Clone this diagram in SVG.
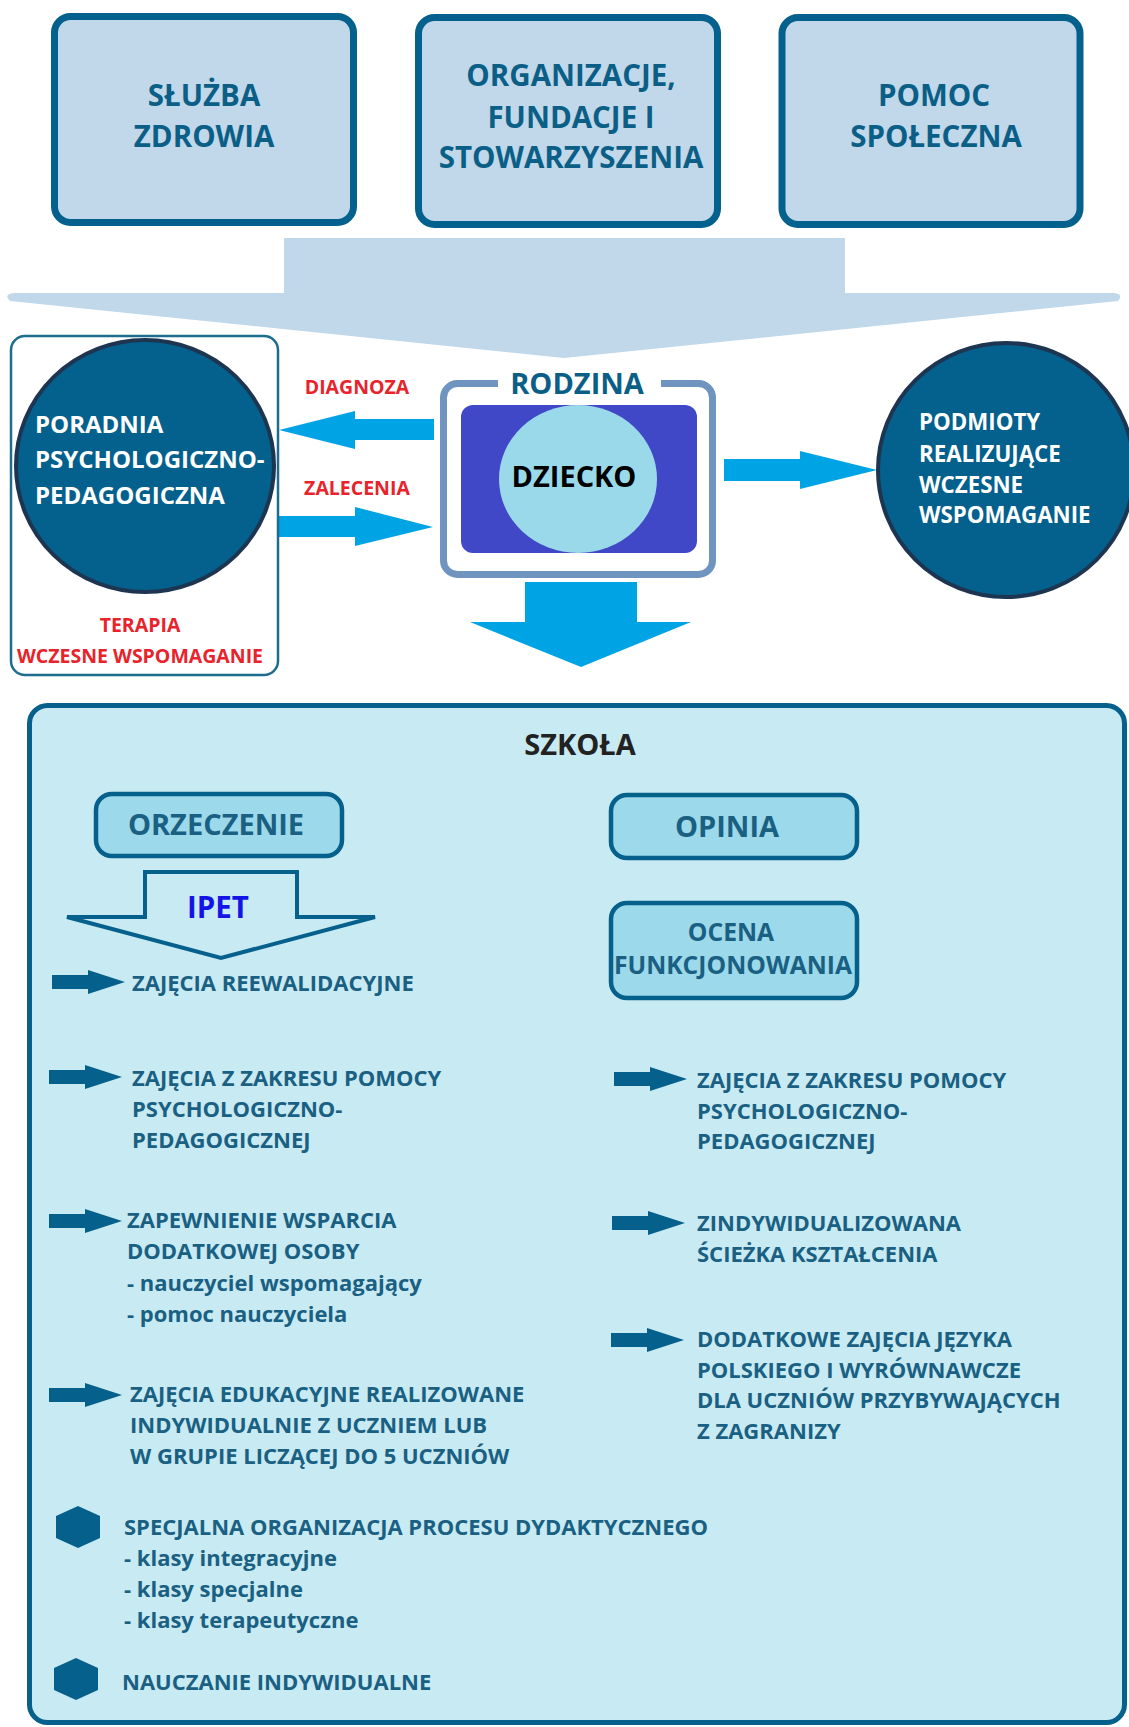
<svg xmlns="http://www.w3.org/2000/svg" xmlns:xlink="http://www.w3.org/1999/xlink" width="1129" height="1727" viewBox="0 0 1129 1727">
<style>
text{font-family:"Open Sans","Liberation Sans",sans-serif;font-weight:bold}
.top{fill:#C0D8EA;stroke:#04608C;stroke-width:7}
.toptx{font-size:29.5px;fill:#0B5F86;text-anchor:middle}
.red{font-size:19.5px;fill:#E8232B;text-anchor:middle}
.wh{font-size:24px;fill:#FFFFFF}
.wh2{font-size:22.3px;fill:#FFFFFF}
.cyan{fill:#00A3E4}
.sub{fill:#9CD9EA;stroke:#05608C;stroke-width:4.5}
.subtx{font-size:29px;fill:#1A6082;text-anchor:middle}
.it{font-size:22px;fill:#1A6082}
.dk{fill:#05608C}
</style>
<defs>
<path id="sarr" d="M0,5 H36 V0 L73,12 L36,24 V19 H0 Z"/>
<path id="hex" d="M22,0 L44,10 L44,32 L22,42 L0,32 L0,10 Z"/>
</defs>
<rect width="1129" height="1727" fill="#FFFFFF"/>

<g id="connectors">
<path d="M284,238 H845 V293 H1114 Q1124,294 1118,301 L564,358 L10,301 Q3,294 14,293 H284 Z" fill="#C0D8EA"/>
<polygon class="cyan" points="434,419 355,419 355,411 279,430 355,449 355,440 434,440"/>
<polygon class="cyan" points="279,516 355,516 355,507 433,527 355,546 355,537 279,537"/>
<polygon class="cyan" points="724,459 800,459 800,451 877,470 800,489 800,481 724,481"/>
<polygon class="cyan" points="525,582 637,582 637,622 691,622 581,667 470,622 525,622"/>
</g>

<g id="sluzba">
<rect class="top" x="54.5" y="16.5" width="299" height="206" rx="16"/>
<text class="toptx" x="204" y="106">SŁUŻBA</text>
<text class="toptx" x="204" y="147">ZDROWIA</text>
</g>
<g id="organizacje">
<rect class="top" x="418.5" y="17.5" width="299" height="207" rx="16"/>
<text class="toptx" x="571" y="86">ORGANIZACJE,</text>
<text class="toptx" x="571" y="128">FUNDACJE I</text>
<text class="toptx" x="571" y="168">STOWARZYSZENIA</text>
</g>
<g id="pomoc">
<rect class="top" x="782" y="17.5" width="298" height="207" rx="16"/>
<text class="toptx" x="934" y="106">POMOC</text>
<text class="toptx" x="936" y="147">SPOŁECZNA</text>
</g>

<g id="poradnia">
<rect x="11" y="336" width="267" height="339" rx="14" fill="none" stroke="#1E6D8E" stroke-width="2.5"/>
<ellipse cx="145" cy="466" rx="129" ry="126" fill="#04608C" stroke="#1D3550" stroke-width="4"/>
<text class="wh" x="35" y="433">PORADNIA</text>
<text class="wh" x="35" y="468">PSYCHOLOGICZNO-</text>
<text class="wh" x="35" y="504">PEDAGOGICZNA</text>
<text class="red" x="140" y="632">TERAPIA</text>
<text class="red" x="140" y="663">WCZESNE WSPOMAGANIE</text>
</g>

<g id="labels">
<text class="red" x="357" y="394">DIAGNOZA</text>
<text class="red" x="357" y="495">ZALECENIA</text>
</g>

<g id="rodzina">
<rect x="443.5" y="383.5" width="269" height="191" rx="14" fill="#FFFFFF" stroke="#7094C0" stroke-width="7"/>
<rect x="498" y="370" width="163" height="24" fill="#FFFFFF"/>
<text x="577" y="394" style="font-size:29px;fill:#0B5F86;text-anchor:middle">RODZINA</text>
<rect x="461" y="405" width="236" height="148" rx="12" fill="#4048C8"/>
</g>
<g id="dziecko">
<ellipse cx="578" cy="479" rx="79" ry="74" fill="#9AD9EA"/>
<text x="574" y="487" style="font-size:29px;fill:#000000;text-anchor:middle">DZIECKO</text>
</g>

<g id="podmioty">
<ellipse cx="1006" cy="470" rx="128" ry="127" fill="#04608C" stroke="#1D3550" stroke-width="4"/>
<text class="wh2" x="919" y="430">PODMIOTY</text>
<text class="wh2" x="919" y="462">REALIZUJĄCE</text>
<text class="wh2" x="919" y="493">WCZESNE</text>
<text class="wh2" x="919" y="523">WSPOMAGANIE</text>
</g>

<g id="szkola">
<rect x="29.5" y="705.5" width="1095" height="1017" rx="18" fill="#C8EAF3" stroke="#05608C" stroke-width="5"/>
<text x="580" y="755" style="font-size:29px;fill:#222222;text-anchor:middle">SZKOŁA</text>
</g>

<g id="orzeczenie">
<rect class="sub" x="96" y="794" width="246" height="62" rx="16"/>
<text class="subtx" x="216" y="835">ORZECZENIE</text>
</g>
<g id="ipet">
<path d="M145,872 H297 V917 H375 L221,958 L67,917 H145 Z" fill="#C8EAF3" stroke="#05608C" stroke-width="4" stroke-linejoin="miter"/>
<text x="218" y="918" style="font-size:29.5px;fill:#1414E6;text-anchor:middle">IPET</text>
</g>
<g id="opinia">
<rect class="sub" x="611" y="795" width="246" height="63" rx="16"/>
<text class="subtx" x="727" y="837">OPINIA</text>
</g>
<g id="ocena">
<rect class="sub" x="611" y="903" width="246" height="95" rx="16"/>
<text x="731" y="941" style="font-size:24.7px;fill:#1A6082;text-anchor:middle">OCENA</text>
<text x="733" y="974" style="font-size:24.7px;fill:#1A6082;text-anchor:middle">FUNKCJONOWANIA</text>
</g>

<g id="left-items">
<use href="#sarr" class="dk" x="52" y="970"/>
<text class="it" x="132" y="991">ZAJĘCIA REEWALIDACYJNE</text>
<use href="#sarr" class="dk" x="49" y="1065"/>
<text class="it" x="132" y="1086">ZAJĘCIA Z ZAKRESU POMOCY</text>
<text class="it" x="132" y="1117">PSYCHOLOGICZNO-</text>
<text class="it" x="132" y="1148">PEDAGOGICZNEJ</text>
<use href="#sarr" class="dk" x="49" y="1209"/>
<text class="it" x="127" y="1228">ZAPEWNIENIE WSPARCIA</text>
<text class="it" x="127" y="1259">DODATKOWEJ OSOBY</text>
<text class="it" x="127" y="1291">- nauczyciel wspomagający</text>
<text class="it" x="127" y="1322">- pomoc nauczyciela</text>
<use href="#sarr" class="dk" x="49" y="1383"/>
<text class="it" x="130" y="1402">ZAJĘCIA EDUKACYJNE REALIZOWANE</text>
<text class="it" x="130" y="1433">INDYWIDUALNIE Z UCZNIEM LUB</text>
<text class="it" x="130" y="1464">W GRUPIE LICZĄCEJ DO 5 UCZNIÓW</text>
</g>

<g id="right-items">
<use href="#sarr" class="dk" x="614" y="1067"/>
<text class="it" x="697" y="1088">ZAJĘCIA Z ZAKRESU POMOCY</text>
<text class="it" x="697" y="1119">PSYCHOLOGICZNO-</text>
<text class="it" x="697" y="1149">PEDAGOGICZNEJ</text>
<use href="#sarr" class="dk" x="612" y="1211"/>
<text class="it" x="697" y="1231">ZINDYWIDUALIZOWANA</text>
<text class="it" x="697" y="1262">ŚCIEŻKA KSZTAŁCENIA</text>
<use href="#sarr" class="dk" x="611" y="1328"/>
<text class="it" x="697" y="1347">DODATKOWE ZAJĘCIA JĘZYKA</text>
<text class="it" x="697" y="1378">POLSKIEGO I WYRÓWNAWCZE</text>
<text class="it" x="697" y="1408">DLA UCZNIÓW PRZYBYWAJĄCYCH</text>
<text class="it" x="697" y="1439">Z ZAGRANIZY</text>
</g>

<g id="bottom-items">
<use href="#hex" class="dk" x="56" y="1506"/>
<text class="it" x="124" y="1535">SPECJALNA ORGANIZACJA PROCESU DYDAKTYCZNEGO</text>
<text class="it" x="124" y="1566">- klasy integracyjne</text>
<text class="it" x="124" y="1597">- klasy specjalne</text>
<text class="it" x="124" y="1628">- klasy terapeutyczne</text>
<use href="#hex" class="dk" x="54" y="1658"/>
<text class="it" x="122" y="1690">NAUCZANIE INDYWIDUALNE</text>
</g>
</svg>
